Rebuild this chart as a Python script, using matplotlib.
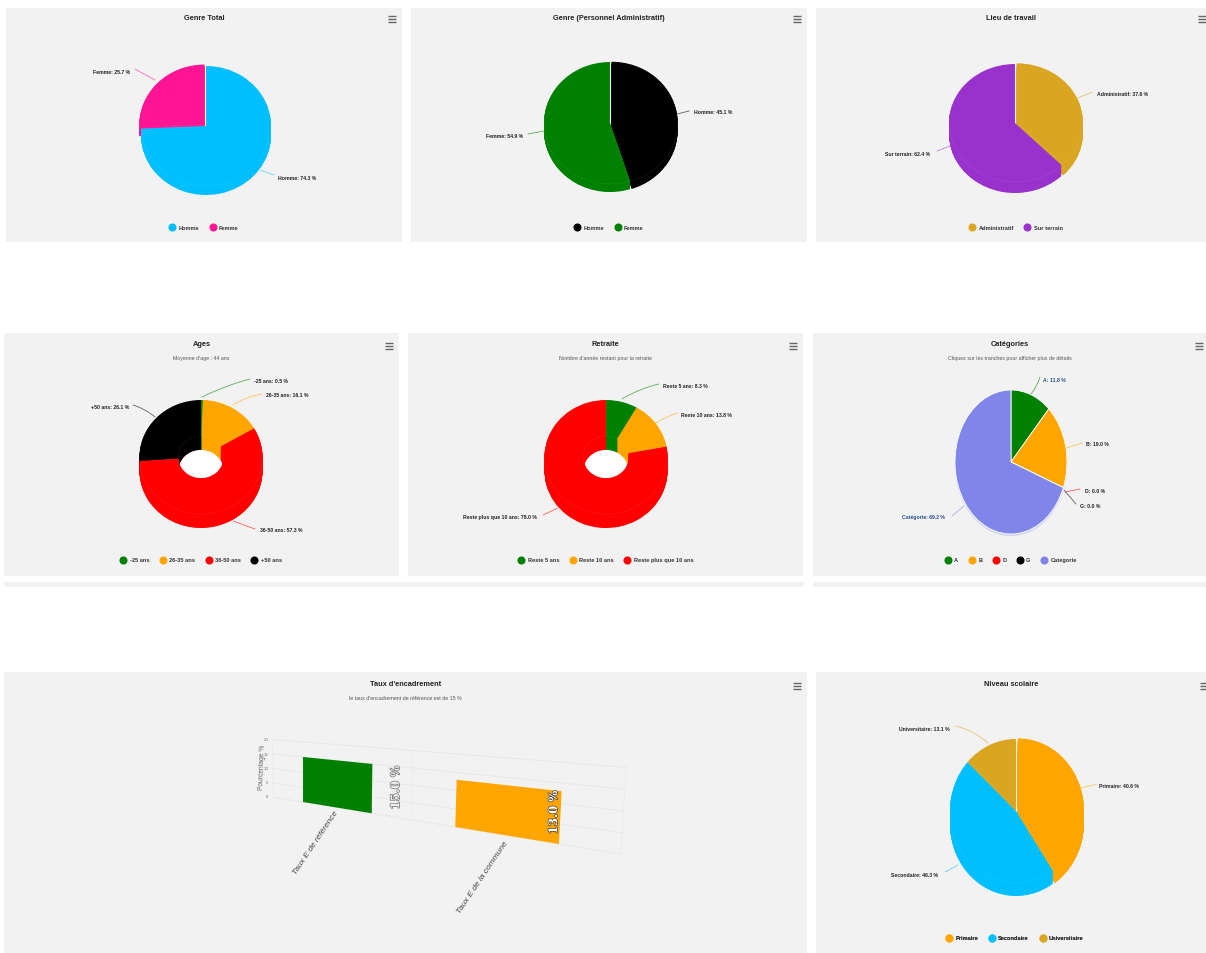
"""Dashboard RH : huit graphiques (secteurs, anneaux, barres en perspective)."""
import matplotlib
matplotlib.use("Agg")
import matplotlib.pyplot as plt
import numpy as np
from matplotlib.lines import Line2D
from matplotlib.patches import Ellipse, Rectangle
from matplotlib.transforms import Transform
import matplotlib.patheffects as pe

WIDTH, HEIGHT = 1206, 954
plt.rcParams["font.family"] = ["Liberation Sans", "DejaVu Sans"]

# --- data -----------------------------------------------------------------
genre_names = ["Homme", "Femme"]
genre_total = [74.3, 25.7]
genre_admin = [45.1, 54.9]
lieu_names = ["Administratif", "Sur terrain"]
lieu_values = [37.6, 62.4]
age_names = ["-25 ans", "26-35 ans", "36-50 ans", "+50 ans"]
age_values = [0.5, 16.1, 57.3, 26.1]
retraite_names = ["Reste 5 ans", "Reste 10 ans", "Reste plus que 10 ans"]
retraite_values = [8.3, 13.8, 78.0]
cat_names = ["A", "B", "D", "G", "Categorie"]
cat_values = [11.8, 19.0, 0.0, 0.0, 69.2]
niveau_names = ["Primaire", "Secondaire", "Universitaire"]
niveau_values = [40.6, 46.3, 13.1]
taux_names = ["Taux E de référence", "Taux E de la commune"]
taux_values = [15.0, 13.0]
taux_ticks = [0, 5, 10, 15, 20]

CYAN, PINK = "#00bfff", "#ff1493"
GREEN, ORANGE, RED = "#008000", "#ffa500", "#ff0000"
GOLD, ORCHID, PERIWINKLE = "#daa520", "#9932cc", "#8085e9"

PANEL = "#f2f2f2"

fig = plt.figure(figsize=(WIDTH / 100, HEIGHT / 100), dpi=100, facecolor="white")
ax = fig.add_axes([0, 0, 1, 1])
ax.set_xlim(0, WIDTH)
ax.set_ylim(HEIGHT, 0)
ax.axis("off")


def panel(x0, x1, y0, y1, title, subtitle=None, title_dy=10, menu_x=None):
    """Fond gris, titre, sous-titre et icone de menu d'un graphique."""
    ax.add_patch(Rectangle((x0, y0), x1 - x0, y1 - y0, facecolor=PANEL, edgecolor="none"))
    cx = (x0 + x1) / 2
    ax.text(cx, y0 + title_dy, title, ha="center", va="center", fontsize=5.3,
            fontweight="bold", color="#222222")
    if subtitle:
        ax.text(cx, y0 + title_dy + 14, subtitle, ha="center", va="center", fontsize=3.8,
                color="#555555")
    menu_x = menu_x if menu_x else x1 - 10
    for dy in (-3, 0, 3):
        ax.plot([menu_x - 4, menu_x + 4], [y0 + title_dy + 2 + dy] * 2, color="#666666", lw=1.0,
                solid_capstyle="butt")


def pie3d(cx, cy, rx, ry, depth, values, colors, hole=0.0, explode=None, edge=None, shadow=None):
    """Secteurs empiles du bas vers le haut pour simuler le relief."""
    margin = 1.4
    left = (cx - rx * margin) / WIDTH
    bottom = 1 - (cy + (ry + depth) * margin) / HEIGHT
    w = 2 * rx * margin / WIDTH
    h = (ry + depth) * 2 * margin / HEIGHT
    pax = fig.add_axes([left, bottom, w, h], zorder=2)
    step = 0.5
    offsets = np.arange(depth, -step / 2, -step) / ry
    wedge = {"linewidth": 0}
    if hole:
        wedge["width"] = 1 - hole
        pax.add_patch(Ellipse((0, -depth / ry / 2), 2 * hole, 2 * hole, facecolor="white",
                              edgecolor="none", zorder=0))
    if shadow:
        pax.add_patch(Ellipse((0, -0.025), 2.01, 2.01, facecolor=shadow, edgecolor="none", zorder=0))
    for off in offsets:
        props = dict(wedge)
        if off == 0:
            props.update(edgecolor=edge or (1, 1, 1, 0.07), linewidth=0.6)
        pax.pie(values, colors=colors, startangle=90, counterclock=False, radius=1,
                center=(0, -off), explode=explode, wedgeprops=props, frame=False)
    pax.set_aspect("auto")
    pax.set_xlim(-margin, margin)
    pax.set_ylim(-(ry + depth) * margin / ry, (ry + depth) * margin / ry)
    pax.axis("off")
    pax.patch.set_alpha(0)
    return pax


def callout(text, text_xy, start, end, color, ha="left", rad=0.0, link=False):
    """Etiquette d'un secteur et son trait de rappel."""
    ax.annotate("", xy=end, xytext=start, xycoords="data", textcoords="data",
                arrowprops=dict(arrowstyle="-", color=color, lw=0.6, alpha=0.6,
                                shrinkA=0, shrinkB=0,
                                connectionstyle=f"arc3,rad={rad}"))
    ax.text(*text_xy, text, ha=ha, va="center", fontsize=3.7,
            color="#274b8f" if link else "#222222", fontweight="bold")


def legend(names, colors, cx, cy, spacing=1.9):
    handles = [Line2D([], [], marker="o", ls="none", color=c, markersize=4.8) for c in colors]
    leg = ax.legend(handles, names, loc="center", bbox_to_anchor=(cx, cy),
                    bbox_transform=ax.transData, ncol=len(names), frameon=False,
                    fontsize=4.1, handlelength=1.0, handletextpad=0.6, columnspacing=spacing,
                    borderpad=0, borderaxespad=0)
    for t in leg.get_texts():
        t.set_color("#333333")
        t.set_fontweight("bold")
    ax.add_artist(leg)


# --- rangee 1 -------------------------------------------------------------
panel(6, 402, 9, 243, "Genre Total", title_dy=9)
pie3d(206, 127, 65, 60, 9, genre_total, [CYAN, PINK], explode=[0, 0.035])
callout(f"Femme: {genre_total[1]} %", (130, 72), (135, 70), (155, 81), PINK, ha="right")
callout(f"Homme: {genre_total[0]} %", (278, 178), (274, 176), (260, 171), CYAN)
legend(genre_names, [CYAN, PINK], 204, 228)

panel(411, 807, 9, 243, "Genre (Personnel Administratif)", title_dy=9)
pie3d(610, 124, 66, 61, 8, genre_admin, ["#000000", GREEN], explode=[0.025, 0])
callout(f"Homme: {genre_admin[0]} %", (694, 113), (689, 112), (677, 115), "#000000")
callout(f"Femme: {genre_admin[1]} %", (523, 137), (528, 135), (544, 132), GREEN, ha="right")
legend(genre_names, ["#000000", GREEN], 609, 228)

panel(816, 1206, 9, 243, "Lieu de travail", title_dy=9, menu_x=1202)
pie3d(1015, 124, 66, 59, 11, lieu_values, [GOLD, ORCHID], explode=[0.03, 0])
callout(f"Administratif: {lieu_values[0]} %", (1097, 95), (1092, 93), (1078, 99), GOLD)
callout(f"Sur terrain: {lieu_values[1]} %", (930, 154), (937, 152), (950, 147), ORCHID, ha="right")
legend(lieu_names, [GOLD, ORCHID], 1016, 228)

# --- rangee 2 -------------------------------------------------------------
for x0, x1 in ((4, 804), (813, 1206)):
    ax.add_patch(Rectangle((x0, 583), x1 - x0, 5, facecolor=PANEL, edgecolor="none"))

age_colors = [GREEN, ORANGE, RED, "#000000"]
panel(4, 399, 334, 577, "Ages", "Moyenne d'age : 44 ans", title_dy=11)
pie3d(201, 458, 61.5, 57, 14, age_values, age_colors, hole=0.37)
callout(f"{age_names[0]}: {age_values[0]} %", (254, 382), (250, 380), (202, 398), GREEN, rad=0.05)
callout(f"{age_names[1]}: {age_values[1]} %", (266, 396), (262, 395), (233, 406), ORANGE, rad=0.1)
callout(f"{age_names[3]}: {age_values[3]} %", (129, 408), (133, 406), (155, 418), "#000000",
        ha="right", rad=-0.1)
callout(f"{age_names[2]}: {age_values[2]} %", (260, 531), (255, 530), (233, 522), RED)
legend(age_names, age_colors, 201, 561)

ret_colors = [GREEN, ORANGE, RED]
panel(408, 803, 334, 577, "Retraite", "Nombre d'année restant pour la retraite", title_dy=11)
pie3d(606, 458, 61.5, 57, 14, retraite_values, ret_colors, hole=0.37)
callout(f"{retraite_names[0]}: {retraite_values[0]} %", (663, 387), (659, 385), (622, 400), GREEN, rad=0.08)
callout(f"{retraite_names[1]}: {retraite_values[1]} %", (681, 416), (678, 414), (656, 424), ORANGE, rad=0.08)
callout(f"{retraite_names[2]}: {retraite_values[2]} %", (537, 518), (543, 516), (558, 509), RED, ha="right")
legend(retraite_names, ret_colors, 606, 561)

cat_colors = [GREEN, ORANGE, RED, "#000000", PERIWINKLE]
panel(813, 1206, 334, 577, "Catégories", "Cliquez sur les tranches pour afficher plus de détails",
      title_dy=11, menu_x=1199)
pie3d(1011, 463, 56, 72, 0, cat_values, cat_colors, edge="white", shadow="#d3d5ef")
callout(f"A: {cat_values[0]} %", (1043, 381), (1040, 378), (1031, 395), GREEN, rad=-0.1, link=True)
callout(f"B: {cat_values[1]} %", (1086, 445), (1082, 444), (1066, 449), ORANGE)
callout(f"D: {cat_values[2]} %", (1085, 492), (1080, 490), (1065, 493), RED)
callout(f"G: {cat_values[3]} %", (1080, 507), (1076, 505), (1064, 491), "#000000")
callout(f"Catégorie: {cat_values[4]} %", (945, 518), (952, 517), (964, 507), PERIWINKLE, ha="right", link=True)
legend(cat_names, cat_colors, 1011, 561)

# --- rangee 3 : barres en perspective ------------------------------------
panel(4, 807, 673, 954, "Taux d'encadrement",
      "le taux d'encadrement de référence est de 15 %", title_dy=12)


class Perspective(Transform):
    """Homographie des coordonnees du graphique vers les pixels de la figure."""
    input_dims = output_dims = 2
    is_separable = False

    def __init__(self, src, dst):
        super().__init__()
        rows, rhs = [], []
        for (x, y), (u, v) in zip(src, dst):
            rows.append([x, y, 1, 0, 0, 0, -u * x, -u * y])
            rows.append([0, 0, 0, x, y, 1, -v * x, -v * y])
            rhs += [u, v]
        self.h = np.append(np.linalg.solve(np.array(rows, float), np.array(rhs, float)), 1).reshape(3, 3)

    def transform_non_affine(self, values):
        pts = np.column_stack([values, np.ones(len(values))]) @ self.h.T
        return pts[:, :2] / pts[:, 2:]


BAR_W = 0.5
persp = Perspective([(-0.25, 0), (-0.25, 15), (1.25, 0), (1.25, 15)],
                    [(303, 803), (303, 758), (559, 845), (562, 784)])
tr = persp + ax.transData
xs = np.arange(len(taux_values))
for tick in taux_ticks:
    ax.plot([-0.5, 1.5], [tick, tick], color="#e4e4e4", lw=0.5, transform=tr)
    ax.text(-0.54, tick, str(tick), transform=tr, fontsize=3.2, color="#777777",
            ha="right", va="center")
for x in (-0.5, 0.5, 1.5):
    ax.plot([x, x], [0, taux_ticks[-1]], color="#e8e8e8", lw=0.4, transform=tr)
ax.bar(xs, taux_values, width=BAR_W, color=[GREEN, ORANGE], transform=tr, zorder=3)
ax.set_xlim(0, WIDTH)
ax.set_ylim(HEIGHT, 0)
ax.text(262, 767, "Pourcentage %", rotation=88, fontsize=4.8, color="#666666",
        ha="center", va="center")

label_styles = [("#eeeeee", "#777777"), ("white", "#444444")]
label_x = [0.40, 1.22]
for x, val, (fc, ec) in zip(label_x, taux_values, label_styles):
    ax.text(x, val * 0.58, f"{val:.1f} %", transform=tr, rotation=90, ha="center", va="center",
            fontsize=8.4, fontweight="bold", family="DejaVu Serif", color=fc, zorder=4,
            path_effects=[pe.withStroke(linewidth=1.0, foreground=ec)])

for name, anchor in zip(taux_names, [(337, 812), (507, 842)]):
    ax.text(*anchor, name, rotation=56, rotation_mode="anchor", ha="right", va="center",
            fontsize=6.0, style="italic", color="#444444")

niv_colors = [ORANGE, CYAN, GOLD]
panel(816, 1206, 673, 954, "Niveau scolaire", title_dy=12, menu_x=1204)
pie3d(1016, 812, 66, 72, 13, niveau_values, niv_colors, explode=[0.03, 0, 0])
callout(f"{niveau_names[0]}: {niveau_values[0]} %", (1099, 787), (1097, 785), (1081, 789), ORANGE)
callout(f"{niveau_names[1]}: {niveau_values[1]} %", (938, 876), (945, 873), (958, 866), CYAN, ha="right")
callout(f"{niveau_names[2]}: {niveau_values[2]} %", (950, 730), (956, 727), (988, 744), GOLD,
        ha="right", rad=-0.12)
legend(niveau_names, niv_colors, 1015, 939)

fig.savefig("out.png", dpi=100, facecolor="white")
